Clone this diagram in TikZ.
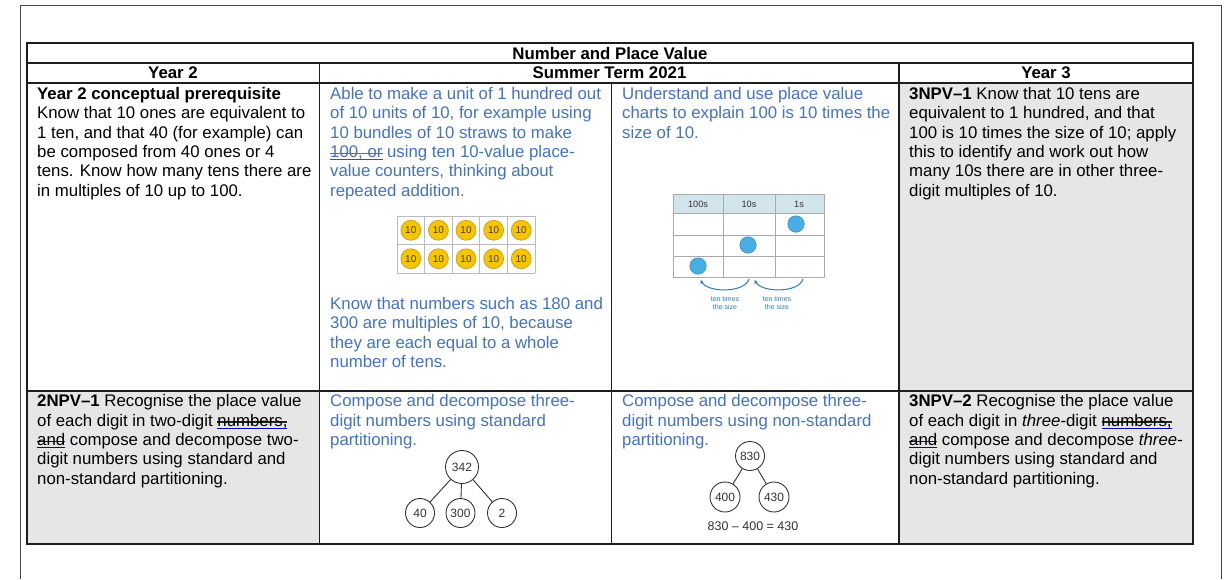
\documentclass[tikz,border=0pt]{standalone}
\usepackage{fontspec}
\setmainfont{Liberation Sans}
\usetikzlibrary{arrows.meta}

\definecolor{wordblue}{HTML}{4472C4}
\definecolor{cellgrey}{HTML}{E6E6E6}
\definecolor{rulegrey}{HTML}{1E1E1E}
\definecolor{framegrey}{HTML}{444444}
\definecolor{boxline}{HTML}{BBBBBB}
\definecolor{coinfill}{HTML}{F7C500}
\definecolor{coinedge}{HTML}{C09A10}
\definecolor{coinink}{HTML}{4A3C10}
\definecolor{pvhead}{HTML}{D3E5EC}
\definecolor{pvline}{HTML}{AAAAAA}
\definecolor{dotfill}{HTML}{48AEE4}
\definecolor{dotedge}{HTML}{2F88C4}
\definecolor{arrowblue}{HTML}{2E7DB3}
\definecolor{treeink}{HTML}{333333}

\newcommand\cellfont{\fontsize{16.8}{19.3}\selectfont}
\newcommand\smallfig{\fontsize{12}{13}\selectfont}

% text carrying a tracked-change strike and an underline
\newlength\marklen
\newcommand\edited[3]{%
  \settowidth\marklen{#3}%
  \rlap{\textcolor{#1}{\rule[0.22em]{\marklen}{0.07em}}}%
  \rlap{\textcolor{#2}{\rule[-0.16em]{\marklen}{0.07em}}}%
  #3}

\begin{document}
\begin{tikzpicture}[x=1pt,y=-1pt,
  rulestyle/.style={draw=rulegrey,line width=1.3pt},
  celltext/.style={anchor=north west,inner sep=0pt,align=left,font=\cellfont},
  bluetext/.style={celltext,text=wordblue},
  headtext/.style={anchor=base,inner sep=0pt,font=\cellfont\bfseries},
  coin/.style={circle,draw=coinedge,line width=0.6pt,fill=coinfill,minimum size=20pt,
    inner sep=0pt,font=\fontsize{10}{10}\selectfont,text=coinink},
  cellline/.style={draw=boxline,line width=0.8pt},
  pvgrid/.style={draw=pvline,line width=0.8pt},
  pvlabel/.style={inner sep=0pt,font=\fontsize{9.2}{9}\selectfont,text=black!80},
  pvdot/.style={circle,fill=dotfill,draw=dotedge,line width=0.5pt,minimum size=16.5pt,inner sep=0pt},
  pvarrow/.style={draw=arrowblue,line width=1pt,-{Stealth[length=4pt,width=4pt]}},
  pvnote/.style={inner sep=0pt,align=center,font=\fontsize{7}{8.6}\selectfont,text=arrowblue},
  part/.style={circle,draw=treeink,line width=0.9pt,inner sep=0pt,font=\smallfig,text=treeink},
  treeline/.style={draw=treeink,line width=0.9pt}]

\useasboundingbox (0,0) rectangle (1230,579);
\fill[white] (0,0) rectangle (1230,579);

% page frame
\draw[draw=framegrey,line width=1pt] (20,579) -- (20,5) -- (1221,5) -- (1221,579);

% shaded cells
\fill[cellgrey] (27,391) rectangle (319.5,544);
\fill[cellgrey] (899,83) rectangle (1193,544);

% table rules
\draw[rulestyle] (27,43) rectangle (1193,544);
\draw[rulestyle] (27,63) -- (1193,63);
\draw[rulestyle] (27,83) -- (1193,83);
\draw[rulestyle] (27,391) -- (1193,391);
\draw[rulestyle] (319.5,63) -- (319.5,544);
\draw[rulestyle] (899,63) -- (899,544);
\draw[rulestyle] (611.5,83) -- (611.5,544);

% headings
\node[headtext] (title) at (610,59) {Number and Place Value};
\node[headtext] (hyear2) at (173,78.5) {Year 2};
\node[headtext] (hterm) at (609.5,78.5) {Summer Term 2021};
\node[headtext] (hyear3) at (1046,78.5) {Year 3};

% first row
\node[celltext] (prereq) at (37,85.8) {\strut\textbf{Year 2 conceptual prerequisite}\\
Know that 10 ones are equivalent to\\
1 ten, and that 40 (for example) can\\
be composed from 40 ones or 4\\
tens. Know how many tens there are\\
in multiples of 10 up to 100.};

\node[bluetext] (hundred) at (330,85.8) {\strut Able to make a unit of 1 hundred out\\
of 10 units of 10, for example using\\
10 bundles of 10 straws to make\\
\edited{wordblue}{wordblue!75!black}{100, or} using ten 10-value place-\\
value counters, thinking about\\
repeated addition.};

\node[bluetext] (multiples) at (330,295.8) {\strut Know that numbers such as 180 and\\
300 are multiples of 10, because\\
they are each equal to a whole\\
number of tens.};

\node[bluetext] (charts) at (622,85.8) {\strut Understand and use place value\\
charts to explain 100 is 10 times the\\
size of 10.};

\node[celltext] (npv1) at (909,85.8) {\strut\textbf{3NPV\textendash1} Know that 10 tens are\\
equivalent to 1 hundred, and that\\
100 is 10 times the size of 10; apply\\
this to identify and work out how\\
many 10s there are in other three-\\
digit multiples of 10.};

% place-value counters
\foreach \i in {0,...,5}
  \draw[cellline] ({397+27.6*\i},216) -- ({397+27.6*\i},273);
\foreach \j in {0,1,2}
  \draw[cellline] (397,{216+28.5*\j}) -- (535,{216+28.5*\j});
\foreach \r in {0,1}
  \foreach \c in {0,...,4}
    \node[coin] (coin-\r-\c) at ({410.8+27.6*\c},{230.25+28.5*\r}) {10};

% place-value chart
\fill[pvhead] (673,194) rectangle (824,213);
\draw[pvgrid] (673,194) rectangle (824,277);
\foreach \yy in {213,235,256} \draw[pvgrid] (673,\yy) -- (824,\yy);
\foreach \xx in {723,775} \draw[pvgrid] (\xx,194) -- (\xx,277);
\node[pvlabel] (col100) at (698,204) {100s};
\node[pvlabel] (col10) at (749,204) {10s};
\node[pvlabel] (col1) at (799,204) {1s};
\node[pvdot] (dot1) at (796,224) {};
\node[pvdot] (dot10) at (748,245) {};
\node[pvdot] (dot100) at (698,266) {};
\coordinate (arcAs) at (749,279);
\coordinate (arcAe) at (700.5,280);
\coordinate (arcBs) at (803,279);
\coordinate (arcBe) at (754.5,280);
\draw[pvarrow] (arcAs) .. controls (745,293) and (708,293) .. (arcAe);
\draw[pvarrow] (arcBs) .. controls (799,293) and (762,293) .. (arcBe);
\node[pvnote] (noteA) at (725,303) {ten times\\the size};
\node[pvnote] (noteB) at (777,303) {ten times\\the size};

% second row
\node[celltext] (npv2y2) at (37,393.2) {\strut\textbf{2NPV\textendash1} Recognise the place value\\
of each digit in two-digit \edited{black!85}{blue!75!black}{numbers,}\\
\edited{black!85}{blue!75!black}{and} compose and decompose two-\\
digit numbers using standard and\\
non-standard partitioning.};

\node[bluetext] (standard) at (330,393.2) {\strut Compose and decompose three-\\
digit numbers using standard\\
partitioning.};

\node[bluetext] (nonstandard) at (622,393.2) {\strut Compose and decompose three-\\
digit numbers using non-standard\\
partitioning.};

\node[celltext] (npv2y3) at (909,393.2) {\strut\textbf{3NPV\textendash2} Recognise the place value\\
of each digit in \textit{three}-digit \edited{black!85}{blue!75!black}{numbers,}\\
\edited{black!85}{blue!75!black}{and} compose and decompose \textit{three}-\\
digit numbers using standard and\\
non-standard partitioning.};

% standard partition of 342
\node[part,minimum size=33pt] (p342) at (462,467) {342};
\node[part,minimum size=29pt] (p40) at (420,513) {40};
\node[part,minimum size=29pt] (p300) at (460.5,513) {300};
\node[part,minimum size=29pt] (p2) at (502,513) {2};
\draw[treeline] (p342) -- (p40);
\draw[treeline] (p342) -- (p300);
\draw[treeline] (p342) -- (p2);

% non-standard partition of 830
\node[part,minimum size=29pt] (p830) at (750,456) {830};
\node[part,minimum size=30pt] (p400) at (725,497) {400};
\node[part,minimum size=30pt] (p430) at (774,497) {430};
\draw[treeline] (p830) -- (p400);
\draw[treeline] (p830) -- (p430);
\node[inner sep=0pt,font=\fontsize{12.5}{13}\selectfont,text=treeink] (subtract) at (753,526) {830 \textendash{} 400 = 430};

\end{tikzpicture}
\end{document}
